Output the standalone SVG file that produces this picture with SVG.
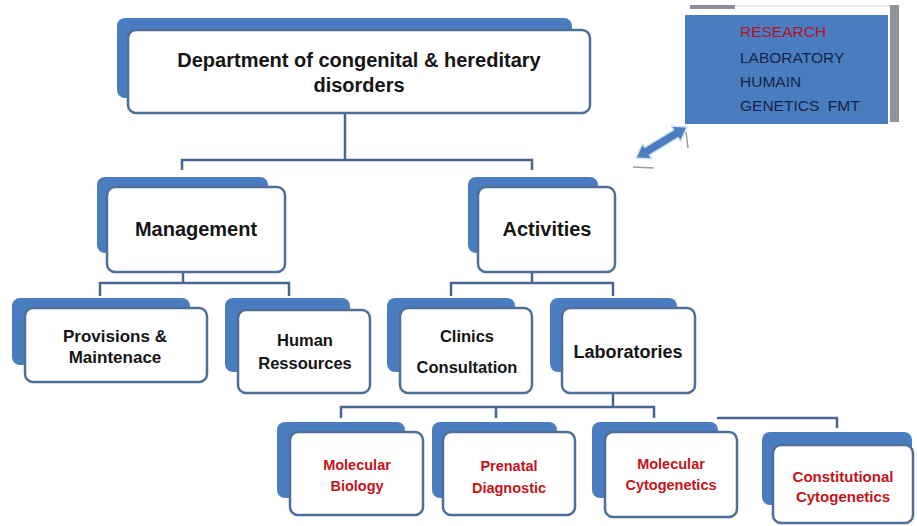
<svg xmlns="http://www.w3.org/2000/svg" width="917" height="526" viewBox="0 0 917 526">
<style>
.back{fill:#4a7dc0;}
.front{fill:#ffffff;stroke:#4e6f98;stroke-width:2.5;}
.t{font-family:"Liberation Sans",Arial,sans-serif;font-weight:bold;fill:#151515;text-anchor:middle;}
.r{font-family:"Liberation Sans",Arial,sans-serif;font-weight:bold;fill:#c3141c;text-anchor:middle;}
.conn{fill:none;stroke:#4a6690;stroke-width:2.5;}
.rt{font-family:"Liberation Sans",Arial,sans-serif;font-size:15.5px;fill:#15244a;}
</style>
<rect width="917" height="526" fill="#ffffff"/>
<g id="connectors">
<path class="conn" d="M345,113 V160 M182,170 V160 H532 V170"/>
<path class="conn" d="M183,272 V283 M100,296 V283 H289 V296"/>
<path class="conn" d="M532,272 V283 M451,296 V283 H613 V296"/>
<path class="conn" d="M613,393 V407 M341,418 V407 H654 V418 M496,407 V418"/>
<path class="conn" d="M717,418 H837 V428"/>
</g>
<g id="research">
<path d="M690,5 H735 V9 H690 Z" fill="#8b9099"/>
<path d="M735,6 H890" stroke="#d6d8dc" stroke-width="1"/>
<rect x="890" y="5" width="9" height="117" fill="#8f949c"/>
<rect x="685" y="15" width="203" height="109" fill="#4a7dc0"/>
<text class="rt" x="740" y="37" style="fill:#b3142a">RESEARCH</text>
<text class="rt" x="740" y="63">LABORATORY</text>
<text class="rt" x="740" y="87">HUMAIN</text>
<text class="rt" x="740" y="111" xml:space="preserve">GENETICS  FMT</text>
</g>
<g id="arrow">
<path d="M686,132 L688,148" stroke="#9a9a9a" stroke-width="1.5"/>
<path d="M633,167 L654,168" stroke="#9a9a9a" stroke-width="1.5"/>
<polygon points="636,158 651.8,158.9 649.4,155.1 678.2,137.6 680.6,141.4 687,127 671.2,126.1 673.6,129.9 644.8,147.4 642.4,143.6" fill="#4a7dc0" stroke="#cfe0f2" stroke-width="1.5" stroke-linejoin="round"/>
</g>
<g id="n-dept">
<rect class="back" x="117" y="18" width="455" height="80" rx="8"/>
<rect class="front" x="128" y="30" width="462" height="83" rx="8"/>
<text class="t" x="359" y="67" font-size="20">Department of congenital &amp; hereditary</text>
<text class="t" x="359" y="92" font-size="20">disorders</text>
</g>
<g id="n-management">
<rect class="back" x="97" y="177" width="171" height="76" rx="8"/>
<rect class="front" x="107" y="187" width="178" height="85" rx="8"/>
<text class="t" x="196" y="236" font-size="20">Management</text>
</g>
<g id="n-activities">
<rect class="back" x="468" y="177" width="130" height="76" rx="8"/>
<rect class="front" x="478" y="187" width="137" height="85" rx="8"/>
<text class="t" x="547" y="236" font-size="20">Activities</text>
</g>
<g id="n-provisions">
<rect class="back" x="12" y="298" width="178" height="67" rx="8"/>
<rect class="front" x="25" y="308" width="182" height="74" rx="8"/>
<text class="t" x="115" y="342" font-size="17">Provisions &amp;</text>
<text class="t" x="115" y="363" font-size="17">Maintenace</text>
</g>
<g id="n-human">
<rect class="back" x="225" y="298" width="125" height="74" rx="8"/>
<rect class="front" x="238" y="310" width="132" height="83" rx="8"/>
<text class="t" x="305" y="346" font-size="16.5">Human</text>
<text class="t" x="305" y="369" font-size="16.5">Ressources</text>
</g>
<g id="n-clinics">
<rect class="back" x="387" y="298" width="128" height="74" rx="8"/>
<rect class="front" x="400" y="308" width="132" height="85" rx="8"/>
<text class="t" x="467" y="342" font-size="16.5">Clinics</text>
<text class="t" x="467" y="373" font-size="16.5">Consultation</text>
</g>
<g id="n-laboratories">
<rect class="back" x="550" y="298" width="127" height="74" rx="8"/>
<rect class="front" x="562" y="308" width="133" height="85" rx="8"/>
<text class="t" x="628" y="358" font-size="18">Laboratories</text>
</g>
<g id="n-molbio">
<rect class="back" x="277" y="422" width="128" height="76" rx="8"/>
<rect class="front" x="290" y="432" width="133" height="83" rx="8"/>
<text class="r" x="357" y="470" font-size="14.5">Molecular</text>
<text class="r" x="357" y="491" font-size="14.5">Biology</text>
</g>
<g id="n-prenatal">
<rect class="back" x="432" y="422" width="125" height="76" rx="8"/>
<rect class="front" x="443" y="432" width="132" height="83" rx="8"/>
<text class="r" x="509" y="471" font-size="14.5">Prenatal</text>
<text class="r" x="509" y="493" font-size="14.5">Diagnostic</text>
</g>
<g id="n-molcyto">
<rect class="back" x="592" y="422" width="126" height="76" rx="8"/>
<rect class="front" x="605" y="432" width="132" height="85" rx="8"/>
<text class="r" x="671" y="469" font-size="14.5">Molecular</text>
<text class="r" x="671" y="490" font-size="14.5">Cytogenetics</text>
</g>
<g id="n-constcyto">
<rect class="back" x="762" y="432" width="150" height="73" rx="8"/>
<rect class="front" x="773" y="445" width="140" height="78" rx="8"/>
<text class="r" x="843" y="482" font-size="15">Constitutional</text>
<text class="r" x="843" y="502" font-size="15">Cytogenetics</text>
</g>
</svg>
